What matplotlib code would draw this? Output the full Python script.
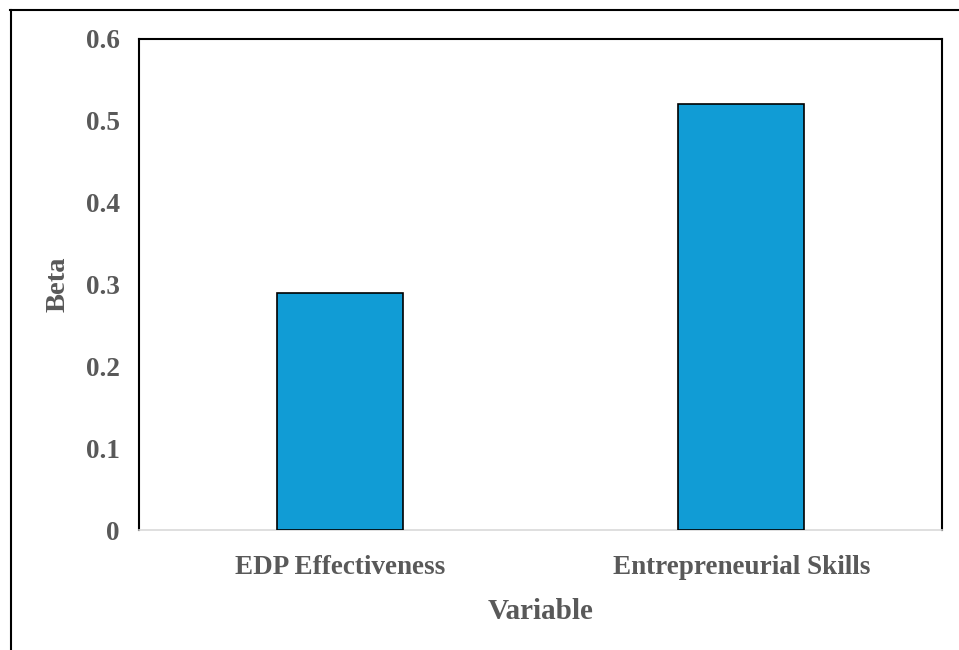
import matplotlib
matplotlib.use("Agg")
import matplotlib.pyplot as plt
from matplotlib.lines import Line2D

categories = ["EDP Effectiveness", "Entrepreneurial Skills"]
beta = [0.29, 0.52]
yticks = [0, 0.1, 0.2, 0.3, 0.4, 0.5, 0.6]
ytick_labels = ["0", "0.1", "0.2", "0.3", "0.4", "0.5", "0.6"]

text_col = "#595959"
plt.rcParams["font.family"] = ["Liberation Serif", "DejaVu Serif"]
plt.rcParams["font.weight"] = "bold"

fig = plt.figure(figsize=(9.59, 6.5), dpi=100)
# outer frame (top and left edges visible)
fig.add_artist(Line2D([10 / 959, 1.0], [1 - 10 / 650, 1 - 10 / 650], color="black", lw=1.5))
fig.add_artist(Line2D([11 / 959, 11 / 959], [0, 1 - 10 / 650], color="black", lw=1.5))

ax = fig.add_axes([139 / 959, 1 - 530 / 650, (942 - 139) / 959, (530 - 39) / 650])
x = range(len(categories))
ax.bar(x, beta, width=0.315, color="#119CD5", edgecolor="black", linewidth=1.2, zorder=3)

ax.set_xlim(-0.5, 1.5)
ax.set_ylim(0, 0.6)
ax.set_yticks(yticks)
ax.set_yticklabels(ytick_labels)
ax.set_xticks(list(x))
ax.set_xticklabels(categories)
ax.tick_params(axis="both", length=0, labelsize=19.5, colors=text_col)
ax.tick_params(axis="x", pad=18)
ax.tick_params(axis="y", pad=14)

for s in ["top", "left", "right"]:
    ax.spines[s].set_color("black")
    ax.spines[s].set_linewidth(1.5)
ax.spines["bottom"].set_color("#d9d9d9")
ax.spines["bottom"].set_linewidth(1.2)

ax.set_xlabel("Variable", fontsize=21, fontweight="bold", color=text_col, labelpad=13)
ax.set_ylabel("Beta", fontsize=20.5, fontweight="bold", color=text_col, labelpad=11)

fig.savefig("out.png", dpi=100)
